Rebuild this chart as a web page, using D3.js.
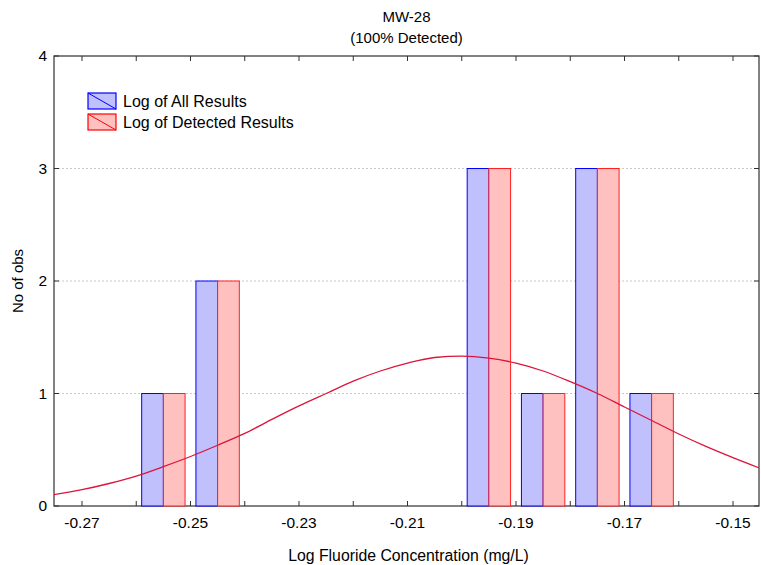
<!DOCTYPE html>
<html><head><meta charset="utf-8">
<script src="https://cdn.jsdelivr.net/npm/d3@7"></script>
<style>body{margin:0;background:#fff;} text{font-family:Arial,"Liberation Sans",sans-serif;fill:#000;}</style>
</head><body>
<svg id="c" width="761" height="565"></svg>
<script>
const titleLines = ["MW-28", "(100% Detected)"];
const xLabel = "Log Fluoride Concentration (mg/L)";
const yLabel = "No of obs";
const seriesNames = ["Log of All Results", "Log of Detected Results"];
const binStarts = [-0.27,-0.26,-0.25,-0.24,-0.23,-0.22,-0.21,-0.20,-0.19,-0.18,-0.17,-0.16];
const allCounts = [0,1,2,0,0,0,0,3,1,3,1,0];
const detectedCounts = [0,1,2,0,0,0,0,3,1,3,1,0];
const binWidth = 0.01;
const xTickLabels = [-0.27,-0.25,-0.23,-0.21,-0.19,-0.17,-0.15];
const xMinorTicks = [-0.27,-0.26,-0.25,-0.24,-0.23,-0.22,-0.21,-0.20,-0.19,-0.18,-0.17,-0.16,-0.15];
const yTicks = [0,1,2,3,4];
const curveX = [-0.2752,-0.27,-0.265,-0.26,-0.255,-0.25,-0.245,-0.24,-0.235,-0.23,-0.225,-0.22,-0.215,-0.21,-0.205,-0.20,-0.195,-0.19,-0.185,-0.18,-0.175,-0.17,-0.165,-0.16,-0.155,-0.15,-0.145];
const curveY = [0.10,0.145,0.20,0.265,0.35,0.44,0.54,0.645,0.77,0.89,1.0,1.11,1.20,1.27,1.32,1.333,1.315,1.27,1.20,1.105,1.0,0.88,0.76,0.64,0.53,0.43,0.335];

const L = 54, R = 759, T = 56, B = 506;
const svg = d3.select("#c");
const x = d3.scaleLinear().domain([-0.27516, -0.14521]).range([L, R]);
const y = d3.scaleLinear().domain([0, 4]).range([B, T]);

svg.append("defs").append("clipPath").attr("id","clip")
  .append("rect").attr("x",L).attr("y",T-1).attr("width",R-L).attr("height",B-T+2);

// grid
svg.append("g").selectAll("line").data(yTicks.filter(d=>d>0 && d<4)).join("line")
  .attr("x1",L).attr("x2",R).attr("y1",d=>y(d)).attr("y2",d=>y(d))
  .attr("stroke","#c8c8c8").attr("stroke-dasharray","2,2");

// frame
svg.append("rect").attr("x",L).attr("y",T).attr("width",R-L).attr("height",B-T)
  .attr("fill","none").attr("stroke","#303030").attr("stroke-width",1.2);

// bars
const bw = binWidth*0.4;
const bars = svg.append("g").attr("clip-path","url(#clip)");
bars.selectAll("rect.a").data(binStarts).join("rect").attr("class","a")
  .attr("x",(d)=>x(d+binWidth/2-bw)).attr("width",(d)=>x(d+binWidth/2)-x(d+binWidth/2-bw))
  .attr("y",(d,i)=>y(allCounts[i])).attr("height",(d,i)=>y(0)-y(allCounts[i]))
  .attr("fill","#c0c0fc").attr("stroke",(d,i)=>allCounts[i]>0?"#0000ff":"#000080").attr("stroke-width",1);
bars.selectAll("rect.b").data(binStarts).join("rect").attr("class","b")
  .attr("x",(d)=>x(d+binWidth/2)).attr("width",(d)=>x(d+binWidth/2+bw)-x(d+binWidth/2))
  .attr("y",(d,i)=>y(detectedCounts[i])).attr("height",(d,i)=>y(0)-y(detectedCounts[i]))
  .attr("fill","#ffc0c0").attr("stroke",(d,i)=>detectedCounts[i]>0?"#ff2020":"#800000").attr("stroke-width",1);

// curve
const pts = curveX.map((v,i)=>[v,curveY[i]]);
svg.append("path").datum(pts).attr("clip-path","url(#clip)")
  .attr("d", d3.line().x(d=>x(d[0])).y(d=>y(d[1])).curve(d3.curveMonotoneX))
  .attr("fill","none").attr("stroke","#dc143c").attr("stroke-width",1.3);

// ticks (inward)
const tg = svg.append("g").attr("stroke","#303030");
xMinorTicks.forEach(v=>{
  tg.append("line").attr("x1",x(v)).attr("x2",x(v)).attr("y1",B).attr("y2",B-5);
  tg.append("line").attr("x1",x(v)).attr("x2",x(v)).attr("y1",T).attr("y2",T+5);
});
yTicks.forEach(v=>{
  tg.append("line").attr("x1",L).attr("x2",L+5).attr("y1",y(v)).attr("y2",y(v));
  tg.append("line").attr("x1",R).attr("x2",R-5).attr("y1",y(v)).attr("y2",y(v));
});

// tick labels
svg.append("g").selectAll("text").data(xTickLabels).join("text")
  .attr("x",d=>x(d)).attr("y",528).attr("text-anchor","middle").attr("font-size",15.5)
  .text(d=>d3.format(".2f")(d).replace("−","-"));
svg.append("g").selectAll("text").data(yTicks).join("text")
  .attr("x",47).attr("y",d=>y(d)+5).attr("text-anchor","end").attr("font-size",15.5)
  .text(d=>d);

// titles
svg.append("text").attr("x",(L+R)/2).attr("y",22).attr("text-anchor","middle").attr("font-size",15).text(titleLines[0]);
svg.append("text").attr("x",(L+R)/2).attr("y",43).attr("text-anchor","middle").attr("font-size",15).text(titleLines[1]);
svg.append("text").attr("x",(L+R)/2+2).attr("y",561).attr("text-anchor","middle").attr("font-size",15.8).text(xLabel);
svg.append("text").attr("transform",`translate(23,${(T+B)/2}) rotate(-90)`).attr("text-anchor","middle").attr("font-size",15).text(yLabel);

// legend
const lg = svg.append("g");
const legCols = [["#c0c0fc","#0000ff"],["#ffc0c0","#ff0000"]];
seriesNames.forEach((n,i)=>{
  const yy = 93 + i*21;
  lg.append("rect").attr("x",88).attr("y",yy).attr("width",28).attr("height",16)
    .attr("fill",legCols[i][0]).attr("stroke",legCols[i][1]).attr("stroke-width",1.2);
  lg.append("line").attr("x1",88).attr("y1",yy).attr("x2",116).attr("y2",yy+16).attr("stroke",legCols[i][1]);
  lg.append("text").attr("x",123).attr("y",yy+14).attr("font-size",16).text(n);
});
</script>
</body></html>
